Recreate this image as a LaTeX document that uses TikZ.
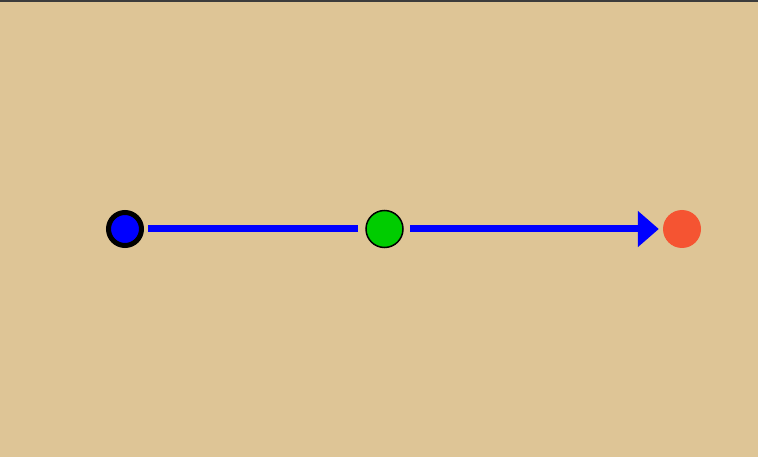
\documentclass[tikz,border=0pt]{standalone}
\usepackage{xcolor}
\usepackage{tikz}
\usetikzlibrary{arrows.meta,positioning}
\definecolor{sand_bg}{RGB}{222, 197, 150}
\definecolor{pt_blue}{RGB}{0, 0, 255}
\definecolor{pt_green}{RGB}{0, 204, 0}
\definecolor{pt_red}{RGB}{245, 84, 50}
\definecolor{top_bar}{RGB}{60, 60, 60}

\begin{document}
\begin{tikzpicture}[
  x=1pt,y=1pt,
  dot/.style={circle,inner sep=0pt,minimum size=37pt},
  link/.style={line width=7pt,color=pt_blue},
  arrow/.style={link,-{Triangle[length=21pt,width=35pt]}}
]
\fill[sand_bg] (0,0) rectangle (758,-457);
\fill[top_bar] (0,0) rectangle (758,-2);
\useasboundingbox (0,0) rectangle (758,-457);
\node[dot,fill=pt_blue,draw=black,line width=5pt,minimum size=33pt] (src) at (125,-229) {};
\node[dot,fill=pt_green,draw=black,line width=1.5pt] (mid) at (384.5,-229) {};
\node[dot,fill=pt_red,minimum size=38pt] (dst) at (682,-229) {};
\draw[link,shorten <=4pt,shorten >=7pt] (src) -- (mid);
\draw[arrow,shorten <=6pt,shorten >=4pt] (mid) -- (dst);
\end{tikzpicture}
\end{document}
